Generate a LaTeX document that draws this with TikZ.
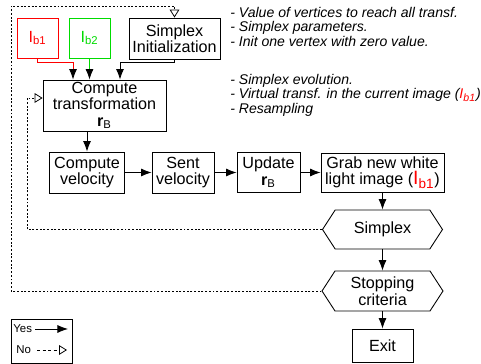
\documentclass[tikz,border=0pt]{standalone}
\usepackage{fontspec}
\setmainfont{Liberation Sans}
\usetikzlibrary{arrows.meta,shapes.symbols}

\begin{document}
\begin{tikzpicture}[x=0.02cm,y=-0.02cm,font=\fontsize{9.2}{9.4}\selectfont,
	box/.style={draw,line width=0.5pt,inner sep=0pt,align=center},
	hexa/.style={box,shape=signal,signal to=west and east,signal pointer angle=114},
	yes/.style={line width=0.5pt,-{Latex[length=6pt,width=4.6pt,color=black]}},
	no/.style={line width=0.45pt,dash pattern=on 1.1pt off 1pt,-{Triangle[open,length=4.5pt,width=5.5pt,color=black]}},
	note/.style={anchor=north west,inner sep=0pt,align=left,font=\fontsize{8}{8.5}\selectfont\itshape}]
	% Farben
	\definecolor{ibred}{RGB}{255,0,0}     % I_b1
	\definecolor{ibgreen}{RGB}{0,220,0}   % I_b2
	
	\useasboundingbox (0,0) rectangle (481,364);
	
	% Eingaben
	\node[box,draw=ibred,text=ibred,minimum width=0.82cm,minimum height=0.8cm] (ib1) at (37.5,38) {I\textsubscript{b1}};
	\node[box,draw=ibgreen,text=ibgreen,minimum width=0.82cm,minimum height=0.8cm] (ib2) at (89.5,38) {I\textsubscript{b2}};
	\node[box,minimum width=1.82cm,minimum height=0.82cm] (init) at (174.5,38.5) {Simplex\\Initialization};
	
	% Hauptschleife
	\node[box,minimum width=2.46cm,minimum height=1.02cm] (comp) at (104.5,105.5) {Compute\\transformation\\\textbf{r}\textsubscript{B}};
	\node[box,minimum width=1.5cm,minimum height=0.82cm] (vel) at (87,172.5) {Compute\\velocity};
	\node[box,minimum width=1.24cm,minimum height=0.82cm] (sent) at (183,172.5) {Sent\\velocity};
	\node[box,minimum width=1.26cm,minimum height=0.8cm] (upd) at (268.5,172.5) {Update\\\textbf{r}\textsubscript{B}};
	\node[box,minimum width=2.46cm,minimum height=0.78cm] (grab) at (382.5,172.5)
	{Grab new white\\light image (\textcolor{ibred}{\fontsize{11}{11}\selectfont I\textsubscript{b1}})};
	
	% Entscheidungen + Ende
	\node[hexa,minimum width=2.4cm,minimum height=0.78cm] (simp) at (382.5,229.5) {Simplex};
	\node[hexa,minimum width=2.42cm,minimum height=0.8cm] (stop) at (382.5,291) {Stopping\\criteria};
	\node[box,minimum width=1.22cm,minimum height=0.66cm] (exit) at (382.5,345.5) {Exit};
	
	% Pfeile (Yes)
	\draw[yes,draw=ibred] (ib1.south) -- ++(0,4) -| ([xshift=-0.63cm]comp.north);
	\draw[yes,draw=ibgreen] (ib2.south) -- (ib2.south |- comp.north);
	\draw[yes] (init.south) -- ++(0,3) -| ([xshift=0.31cm]comp.north);
	\draw[yes] (comp.south -| vel.north) -- (vel.north);
	\draw[yes] (vel.east) -- (sent.west);
	\draw[yes] (sent.east) -- (upd.west);
	\draw[yes] (upd.east) -- (grab.west);
	\draw[yes] (grab.south) -- (simp.north);
	\draw[yes] (simp.south) -- (stop.north);
	\draw[yes] (stop.south) -- (exit.north);
	
	% Rueckfuehrungen (No)
	\coordinate (inner) at (27,98);
	\coordinate (outer) at (11,6);
	\draw[no] (simp.west) -| (inner) -- (inner -| comp.west);
	\draw[no] (stop.west) -| (outer) -| (init.north);
	
	% Anmerkungen
	\node[note] (note1) at (230,6.5)
	{- Value of vertices to reach all transf.\\- Simplex parameters.\\- Init one vertex with zero value.};
	\node[note] (note2) at (230,73.5)
	{- Simplex evolution.\\- Virtual transf. in the current image (\textcolor{ibred}{I\textsubscript{b1}})\\- Resampling};
	
	% Legende
	\node[box,minimum width=1.22cm,minimum height=0.88cm] (legend) at (41.5,341) {};
	\node[anchor=west,inner sep=0pt,font=\fontsize{6.5}{6.5}\selectfont] (yestxt) at (13,329) {Yes};
	\node[anchor=west,inner sep=0pt,font=\fontsize{6.5}{6.5}\selectfont] (notxt) at (16,350) {No};
	\coordinate (yesend) at (68,330);
	\coordinate (noend) at (67,350);
	\draw[yes] ([xshift=0.06cm]yestxt.east) -- (yestxt.east -| yesend);
	\draw[no,dash pattern=on 1.7pt off 1.4pt] ([xshift=0.12cm]notxt.east) -- (notxt.east -| noend);
\end{tikzpicture}
\end{document}
